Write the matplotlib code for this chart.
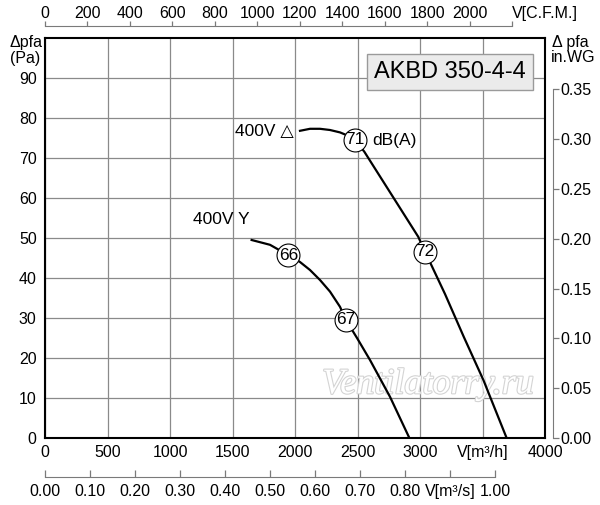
import numpy as np
import matplotlib.pyplot as plt
from matplotlib import patheffects

plt.rcParams['font.family'] = ['Liberation Sans', 'DejaVu Sans']

# === Fan curves (flow in m3/h, static pressure in Pa) ===
delta_flow = [2040, 2120, 2200, 2280, 2360, 2430, 2480, 2554, 2986, 3040, 3200, 3350, 3507, 3693]
delta_pa = [76.8, 77.3, 77.3, 77.0, 76.4, 75.5, 74.5, 71.6, 50.3, 46.6, 36.0, 25.3, 14.5, 0.0]

star_flow = [1653, 1800, 1947, 2040, 2120, 2200, 2280, 2360, 2408, 2500, 2600, 2760, 2915]
star_pa = [49.5, 48.3, 45.7, 44.0, 42.0, 39.5, 36.6, 32.8, 29.5, 24.8, 19.5, 10.3, 0.0]

# noise level markers dB(A)
db_flow = [2480, 3040, 1947, 2408]
db_pa = [74.5, 46.6, 45.7, 29.5]
db_vals = ['71', '72', '66', '67']

# === Axis scales ===
flow_ticks = [0, 500, 1000, 1500, 2000, 2500, 3000, 3500, 4000]
flow_labels = ['0', '500', '1000', '1500', '2000', '2500', '3000', 'V[m³/h]', '4000']
pa_ticks = [0, 10, 20, 30, 40, 50, 60, 70, 80, 90]
cfm_ticks = [0, 200, 400, 600, 800, 1000, 1200, 1400, 1600, 1800, 2000, 2200]
cfm_labels = ['0', '200', '400', '600', '800', '1000', '1200', '1400', '1600', '1800', '2000', 'V[C.F.M.]']
m3s_ticks = [0.0, 0.1, 0.2, 0.3, 0.4, 0.5, 0.6, 0.7, 0.8, 0.9, 1.0]
m3s_labels = ['0.00', '0.10', '0.20', '0.30', '0.40', '0.50', '0.60', '0.70', '0.80', 'V[m³/s]', '1.00']
wg_ticks = [0.0, 0.05, 0.10, 0.15, 0.20, 0.25, 0.30, 0.35]

M3H_PER_CFM = 1.699
PA_PER_INWG = 249.089
FS = 11.5
AX_GRAY = '#7a7a7a'

fig = plt.figure(figsize=(6, 5.05), dpi=100)
ax = fig.add_axes([45 / 600, 67 / 505, 500 / 600, 400 / 505])
ax.set_xlim(0, 4000)
ax.set_ylim(0, 100)
ax.set_xticks(flow_ticks, flow_labels)
ax.set_yticks(pa_ticks)
ax.tick_params(length=0, labelsize=FS)
ax.tick_params(axis='x', pad=5)
ax.tick_params(axis='y', pad=6)
ax.grid(True, color='#8a8a8a', lw=0.9)
ax.set_axisbelow(True)
for s in ax.spines.values():
    s.set_linewidth(1.5)

# top: C.F.M.
top = ax.secondary_xaxis(1.03, functions=(lambda q: q / M3H_PER_CFM, lambda c: c * M3H_PER_CFM))
top.set_xticks(cfm_ticks, cfm_labels)
top.spines['top'].set_bounds(0, 2200)
top.spines['top'].set_color(AX_GRAY)
top.tick_params(direction='out', length=3.6, width=0.9, color=AX_GRAY, pad=0.3, labelsize=FS)
top.get_xticklabels()[-1].set_horizontalalignment('left')

# bottom: m3/s
bot = ax.secondary_xaxis(-0.0975, functions=(lambda q: q / 3600, lambda s: s * 3600))
bot.set_xticks(m3s_ticks, m3s_labels)
bot.spines['bottom'].set_bounds(0, 1.0)
bot.spines['bottom'].set_color(AX_GRAY)
bot.tick_params(direction='in', length=5, width=0.9, color=AX_GRAY, pad=5, labelsize=FS)

# right: in.WG
right = ax.secondary_yaxis(1.016, functions=(lambda p: p / PA_PER_INWG, lambda w: w * PA_PER_INWG))
right.set_yticks(wg_ticks, [f'{v:.2f}' for v in wg_ticks])
right.spines['right'].set_bounds(0, 0.35)
right.spines['right'].set_color(AX_GRAY)
right.tick_params(direction='out', length=4, width=0.9, color=AX_GRAY, pad=1, labelsize=FS)

# watermark
ax.text(3064, 13.3, 'Ventilatorry.ru', fontsize=26, style='italic', family='Liberation Serif',
        color='white', ha='center', va='center', zorder=1.5,
        path_effects=[patheffects.withStroke(linewidth=1.6, foreground='#d4d4d4')])

# === Curves ===
ax.plot(delta_flow, delta_pa, color='black', lw=1.6, zorder=3)
ax.plot(star_flow, star_pa, color='black', lw=1.6, zorder=3)
ax.scatter(db_flow, db_pa, s=16.5 ** 2, facecolor='white', edgecolor='black', lw=0.8, zorder=4)
for f, p, t in zip(db_flow, db_pa, db_vals):
    ax.text(f, p, t, fontsize=12.5, ha='center', va='center', zorder=5)

ax.text(2620, 74.3, 'dB(A)', fontsize=12.5, ha='left', va='center')
ax.text(1990, 76.5, '400V △', fontsize=12.5, ha='right', va='center')
ax.text(1410, 54.5, '400V Y', fontsize=12.5, ha='center', va='center')

ax.text(0.81, 0.914, 'AKBD 350-4-4', transform=ax.transAxes, fontsize=17, ha='center', va='center',
        bbox=dict(boxstyle='square,pad=0.3', facecolor='#ebebeb', edgecolor='#9a9a9a', lw=1))

# axis captions
fig.text(42 / 600, 1 - 43 / 505, 'Δpfa', fontsize=FS, ha='right', va='center')
fig.text(40 / 600, 1 - 58 / 505, '(Pa)', fontsize=FS, ha='right', va='center')
fig.text(552 / 600, 1 - 43 / 505, 'Δ pfa', fontsize=FS, ha='left', va='center')
fig.text(551 / 600, 1 - 58 / 505, 'in.WG', fontsize=FS, ha='left', va='center')

fig.savefig('out.png', dpi=100)
